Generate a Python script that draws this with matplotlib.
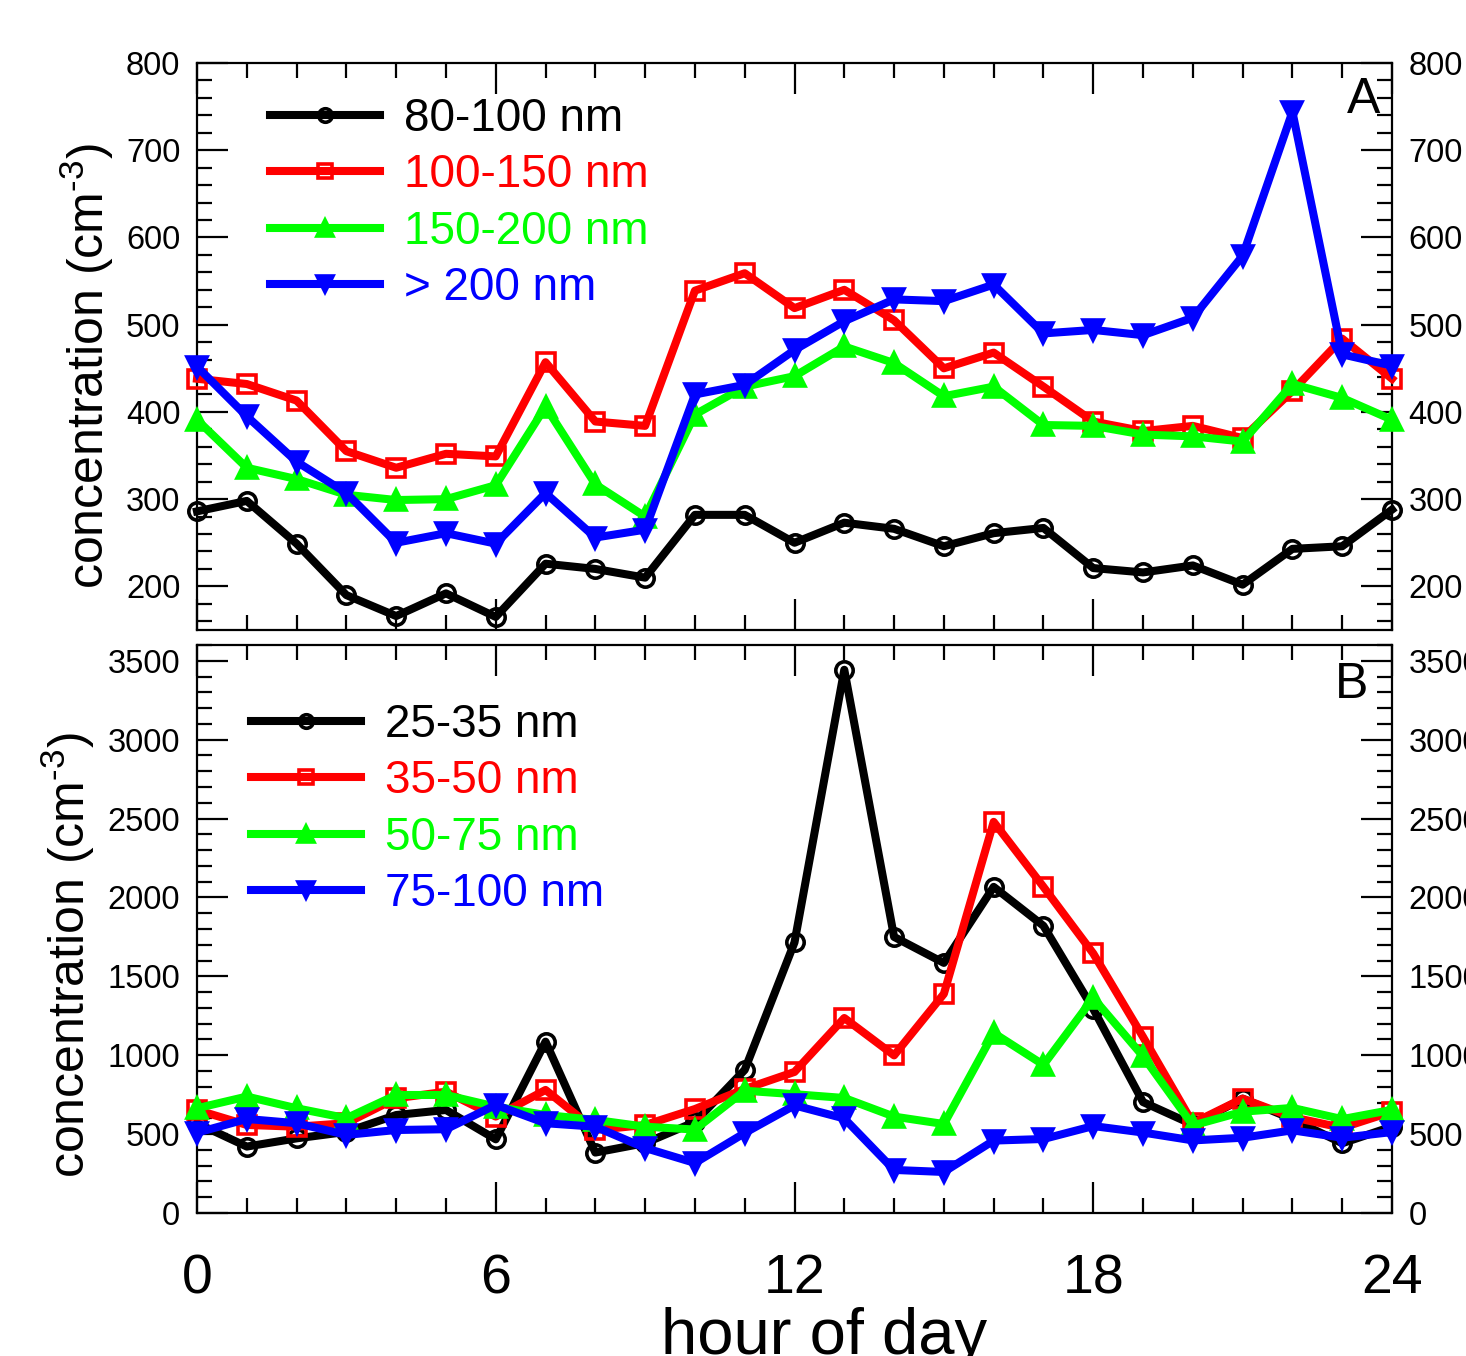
import matplotlib
matplotlib.use("Agg")
import matplotlib.pyplot as plt
from matplotlib.ticker import MultipleLocator

plt.rcParams['font.family'] = ['Liberation Sans', 'DejaVu Sans']
plt.rcParams['mathtext.fontset'] = 'custom'
plt.rcParams['mathtext.rm'] = 'Liberation Sans'
plt.rcParams['mathtext.it'] = 'Liberation Sans'

hours = list(range(25))

# Panel A
labels_a = ["80-100 nm", "100-150 nm", "150-200 nm", "> 200 nm"]
a_80_100 = [286, 298, 249, 190, 166, 192, 165, 226, 220, 210, 282, 282, 250, 273, 266,
            246, 261, 267, 221, 216, 224, 202, 243, 246, 288]
a_100_150 = [438, 432, 413, 355, 336, 352, 349, 457, 389, 384, 539, 559, 519, 540, 505,
             450, 468, 429, 389, 378, 384, 370, 424, 484, 438]
a_150_200 = [391, 336, 323, 305, 299, 300, 316, 406, 317, 280, 397, 429, 441, 475, 456,
             418, 429, 385, 384, 374, 372, 366, 432, 416, 391]
a_gt200 = [452, 395, 343, 307, 250, 261, 249, 307, 256, 265, 420, 431, 471, 504, 529,
           527, 546, 490, 494, 488, 508, 579, 744, 466, 453]

# Panel B
labels_b = ["25-35 nm", "35-50 nm", "50-75 nm", "75-100 nm"]
b_25_35 = [569, 421, 473, 514, 621, 653, 467, 1086, 383, 443, 577, 907, 1715, 3443, 1750,
           1585, 2067, 1820, 1293, 703, 560, 725, 595, 442, 548]
b_35_50 = [653, 558, 547, 569, 727, 769, 611, 780, 526, 558, 659, 786, 894, 1236, 999,
           1389, 2479, 2067, 1645, 1116, 570, 725, 607, 540, 642]
b_50_75 = [664, 738, 664, 601, 748, 748, 674, 621, 590, 547, 529, 775, 753, 729, 611,
           564, 1141, 939, 1363, 993, 555, 642, 666, 595, 654]
b_75_100 = [509, 596, 569, 495, 526, 531, 685, 569, 547, 412, 317, 507, 682, 599, 273,
            260, 459, 469, 551, 510, 460, 477, 524, 477, 513]

colors = ["#000000", "#ff0000", "#00ff00", "#0000ff"]
markers = ["o", "s", "^", "v"]
filled = [False, False, True, True]

W, H = 1466, 1356
fig = plt.figure(figsize=(W / 100, H / 100), dpi=100)
ax1 = fig.add_axes([197 / W, 1 - 630 / H, 1195 / W, 567 / H])
ax2 = fig.add_axes([197 / W, 1 - 1213 / H, 1195 / W, 568 / H])


def draw(ax, series, labels):
    for s, lab, c, m, f in zip(series, labels, colors, markers, filled):
        ax.plot(hours, s, color=c, lw=5.8, marker=m, ms=12.5 if m in "os" else 15,
                mfc=c if f else "none", mec=c, mew=2.6, label=lab, clip_on=False,
                zorder=3)


def style(ax):
    ax.set_xlim(0, 24)
    ax.xaxis.set_major_locator(MultipleLocator(6))
    ax.xaxis.set_minor_locator(MultipleLocator(1))
    ax.tick_params(which="both", direction="in", top=True, right=True,
                   labelright=True, width=1.6, labelsize=23.5)
    ax.tick_params(which="major", length=22)
    ax.tick_params(which="minor", length=11)
    ax.tick_params(axis="y", pad=12)
    for sp in ax.spines.values():
        sp.set_linewidth(1.6)


draw(ax1, [a_80_100, a_100_150, a_150_200, a_gt200], labels_a)
draw(ax2, [b_25_35, b_35_50, b_50_75, b_75_100], labels_b)
style(ax1)
style(ax2)

ax1.set_ylim(150, 800)
ax1.yaxis.set_major_locator(MultipleLocator(100))
ax1.yaxis.set_minor_locator(MultipleLocator(20))
ax1.set_yticks([200, 300, 400, 500, 600, 700, 800])
ax1.tick_params(axis="x", labelbottom=False)

ax2.set_ylim(0, 3600)
ax2.yaxis.set_major_locator(MultipleLocator(500))
ax2.yaxis.set_minor_locator(MultipleLocator(100))
ax2.set_yticks([0, 500, 1000, 1500, 2000, 2500, 3000, 3500])
ax2.tick_params(axis="x", labelsize=40, pad=29)

ylab = r"concentration (cm$^{\text{-3}}$)"
ax1.set_ylabel(ylab, fontsize=36)
ax1.yaxis.set_label_coords(-0.068, 0.465)
ax2.set_ylabel(ylab, fontsize=36)
ax2.yaxis.set_label_coords(-0.084, 0.454)

fig.text(824 / W, 2 / H, "hour of day", fontsize=47, ha="center", va="baseline")

ax1.text(0.99, 0.935, "A", transform=ax1.transAxes, fontsize=36, ha="right", va="center")
ax2.text(0.98, 0.93, "B", transform=ax2.transAxes, fontsize=36, ha="right", va="center")

for ax, anchor in [(ax1, (0.061, 0.94)), (ax2, (0.045, 0.898))]:
    leg = ax.legend(loc="upper left", bbox_to_anchor=anchor, frameon=False, fontsize=33,
                    handlelength=2.4, handletextpad=0.52, labelspacing=0.27,
                    markerscale=0.78, borderaxespad=0, borderpad=0)
    for t, c in zip(leg.get_texts(), colors):
        t.set_color(c)

fig.savefig("out.png", dpi=100)
